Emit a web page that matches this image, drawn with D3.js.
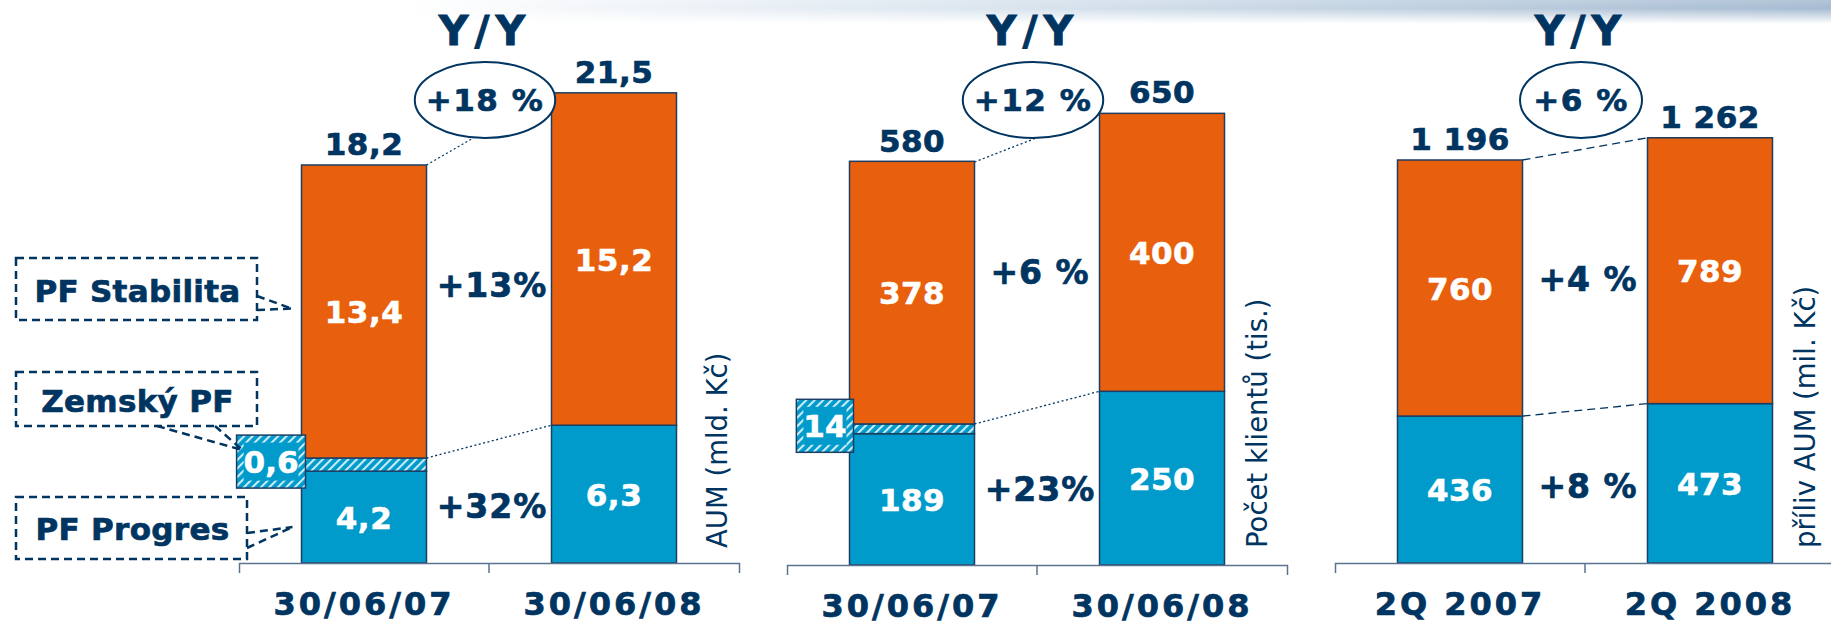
<!DOCTYPE html>
<html><head><meta charset="utf-8">
<script src="https://cdn.jsdelivr.net/npm/d3@7"></script>
<style>body{margin:0;background:#fff}svg{display:block}</style>
</head><body>
<svg id="c" width="1831" height="625"></svg>
<script>
// ---------- data ----------
const dateCategories = ["30/06/07", "30/06/08"];
const quarterCategories = ["2Q 2007", "2Q 2008"];
const seriesNames = ["PF Progres", "Zemský PF", "PF Stabilita"];

const aumProgres = [4.2, 6.3];
const aumZemsky = [0.6, 0];
const aumStabilita = [13.4, 15.2];
const aumTotals = [18.2, 21.5];
const aumGrowth = ["+18 %", "+13%", "+32%"];     // total, stabilita, progres

const clientsProgres = [189, 250];
const clientsZemsky = [14, 0];
const clientsStabilita = [378, 400];
const clientsTotals = [580, 650];
const clientsGrowth = ["+12 %", "+6 %", "+23%"];

const inflowProgres = [436, 473];
const inflowZemsky = [0, 0];
const inflowStabilita = [760, 789];
const inflowTotals = [1196, 1262];
const inflowGrowth = ["+6 %", "+4 %", "+8 %"];

const axisTitles = ["AUM (mld. Kč)", "Počet klientů (tis.)", "příliv AUM (mil. Kč)"];

// ---------- style ----------
const NAVY = "#003461", ORANGE = "#E8600E", BLUE = "#009BCB", FONT = "DejaVu Sans";
const cs = d3.formatLocale({decimal: ",", thousands: " ", grouping: [3], currency: ["", " Kč"]});

const svg = d3.select("#c");
const defs = svg.append("defs");

// top decorative band
const tg = defs.append("linearGradient").attr("id", "topH").attr("x1", 0).attr("x2", 1).attr("y1", 0).attr("y2", 0);
tg.append("stop").attr("offset", 0.22).attr("stop-color", "#ffffff");
tg.append("stop").attr("offset", 0.55).attr("stop-color", "#d9e4ee");
tg.append("stop").attr("offset", 1).attr("stop-color", "#a5bbd1");
const tv = defs.append("linearGradient").attr("id", "topV").attr("x1", 0).attr("x2", 0).attr("y1", 0).attr("y2", 1);
tv.append("stop").attr("offset", 0).attr("stop-color", "#fff").attr("stop-opacity", 0.85);
tv.append("stop").attr("offset", 0.35).attr("stop-color", "#fff").attr("stop-opacity", 1);
tv.append("stop").attr("offset", 1).attr("stop-color", "#fff").attr("stop-opacity", 0);
defs.append("mask").attr("id", "topMask").append("rect").attr("x", 0).attr("y", 0).attr("width", 1831).attr("height", 24).attr("fill", "url(#topV)");
svg.append("rect").attr("x", 0).attr("y", 0).attr("width", 1831).attr("height", 24).attr("fill", "url(#topH)").attr("mask", "url(#topMask)");

// hatch
const hp = defs.append("pattern").attr("id", "hatch").attr("width", 6).attr("height", 6)
  .attr("patternUnits", "userSpaceOnUse").attr("patternTransform", "rotate(45)");
hp.append("rect").attr("width", 6).attr("height", 6).attr("fill", BLUE);
hp.append("line").attr("x1", 1).attr("y1", 0).attr("x2", 1).attr("y2", 6).attr("stroke", "#c9ecf8").attr("stroke-width", 2.2);

const panels = [
  {cats: dateCategories, prog: aumProgres, zem: aumZemsky, stab: aumStabilita, totals: aumTotals, growth: aumGrowth,
   fmt: cs.format(".1f"), title: axisTitles[0], x0: 239, base: 563, topY: 165, titleDx: 50, dash: "2,2.5"},
  {cats: dateCategories, prog: clientsProgres, zem: clientsZemsky, stab: clientsStabilita, totals: clientsTotals, growth: clientsGrowth,
   fmt: cs.format("d"), title: axisTitles[1], x0: 787, base: 565, topY: 162, titleDx: 42, dash: "2,2.5"},
  {cats: quarterCategories, prog: inflowProgres, zem: inflowZemsky, stab: inflowStabilita, totals: inflowTotals, growth: inflowGrowth,
   fmt: cs.format(",d"), title: axisTitles[2], x0: 1335, base: 563, topY: 160, titleDx: 42, dash: "8,5"}
];

const keys = ["prog", "zem", "stab"];
const fills = {prog: BLUE, zem: "url(#hatch)", stab: ORANGE};

function txt(g, s, x, y, size, opts = {}) {
  const col = opts.fill || NAVY;
  return g.append("text").attr("x", x).attr("y", y).text(s)
    .attr("font-family", FONT).attr("font-size", size)
    .attr("font-weight", opts.weight || "bold")
    .attr("fill", col)
    .attr("stroke", col).attr("stroke-width", opts.sw === undefined ? 0.7 : opts.sw)
    .attr("text-anchor", opts.anchor || "middle")
    .attr("letter-spacing", opts.ls || 0);
}

let panel1 = null;

panels.forEach((p, pi) => {
  const g = svg.append("g");
  const x = d3.scaleBand().domain(p.cats).range([p.x0, p.x0 + 500]).paddingInner(0.5).paddingOuter(0.25);
  const y = d3.scaleLinear().domain([0, p.totals[0]]).range([p.base, p.topY]);
  const rows = p.cats.map((c, i) => ({cat: c, prog: p.prog[i], zem: p.zem[i], stab: p.stab[i]}));
  const stacked = d3.stack().keys(keys)(rows);
  const mid = p.x0 + 250; // category boundary (centre tick)

  // connector lines between bars (drawn first, behind ellipse)
  const topOf = i => y(p.totals[i]);
  const lowOf = i => y(rows[i].prog + rows[i].zem);
  [topOf, lowOf].forEach(f => {
    g.append("line")
      .attr("x1", x(p.cats[0]) + x.bandwidth()).attr("y1", f(0))
      .attr("x2", x(p.cats[1])).attr("y2", f(1))
      .attr("stroke", NAVY).attr("stroke-width", 1.3).attr("stroke-dasharray", p.dash);
  });

  // bars
  stacked.forEach(s => {
    g.selectAll(null).data(s.filter(d => d[1] - d[0] > 0)).join("rect")
      .attr("x", d => x(d.data.cat)).attr("width", x.bandwidth())
      .attr("y", d => y(d[1])).attr("height", d => y(d[0]) - y(d[1]))
      .attr("fill", fills[s.key]).attr("stroke", "#1d3d63").attr("stroke-width", 1.5);
  });

  // inner value labels
  stacked.filter(s => s.key !== "zem").forEach(s => {
    s.forEach(d => {
      const cy = (y(d[0]) + y(d[1])) / 2;
      txt(g, p.fmt(d[1] - d[0]), x(d.data.cat) + x.bandwidth() / 2, cy + 11.5, 31, {fill: "#fff", sw: 0.6, ls: 0.5});
    });
  });

  // totals above bars
  p.cats.forEach((c, i) => {
    txt(g, p.fmt(p.totals[i]), x(c) + x.bandwidth() / 2, topOf(i) - 10, 31, {ls: 0.5});
  });

  // growth labels between bars
  const segMid = (key, i) => { const s = stacked.find(t => t.key === key)[i]; return (y(s[0]) + y(s[1])) / 2; };
  const stabMid = (segMid("stab", 0) + segMid("stab", 1)) / 2;
  const progMid = (segMid("prog", 0) + segMid("prog", 1)) / 2;
  txt(g, p.growth[1], mid + 3, stabMid + 12, 33, {ls: 1});
  txt(g, p.growth[2], mid + 3, progMid + 12, 33, {ls: 1});

  // Y/Y + ellipse
  txt(g, "Y/Y", mid - 4, 45, 41, {ls: 6, sw: 0.9});
  const el = g.append("ellipse").attr("cx", mid - 4).attr("cy", 100).attr("ry", 38)
    .attr("fill", "#fff").attr("stroke", NAVY).attr("stroke-width", 2);
  const et = txt(g, p.growth[0], mid - 4, 111, 31, {ls: 1.5});
  const w = et.node().getComputedTextLength();
  el.attr("rx", Math.max(61, w / 2 + 11));

  // axis
  const ax = g.append("g").attr("transform", `translate(0,${p.base})`)
    .call(d3.axisBottom(x).tickSizeInner(0).tickSizeOuter(10));
  ax.select(".domain").attr("stroke", "#5b7391").attr("stroke-width", 1.5);
  ax.selectAll(".tick line").remove();
  ax.selectAll(".tick text").attr("dy", null).attr("y", 52)
    .attr("font-family", FONT).attr("font-size", 32).attr("font-weight", "bold")
    .attr("fill", NAVY).attr("stroke", NAVY).attr("stroke-width", 0.7).attr("letter-spacing", 3);
  g.append("line").attr("x1", mid).attr("x2", mid).attr("y1", p.base).attr("y2", p.base + 10)
    .attr("stroke", "#5b7391").attr("stroke-width", 1.5);

  // rotated axis title
  g.append("text").attr("transform", `translate(${x(p.cats[1]) + x.bandwidth() + p.titleDx},548) rotate(-90)`)
    .text(p.title).attr("font-family", FONT).attr("font-size", 27.5).attr("fill", NAVY).attr("text-anchor", "start");

  // hatched value box for Zemský PF
  if (p.zem[0] > 0) {
    const s = stacked.find(t => t.key === "zem")[0];
    const cy = (y(s[0]) + y(s[1])) / 2 - 3;
    const bx = g.append("g");
    const t = txt(bx, p.fmt(p.zem[0]), 0, cy + 11.5, 31, {fill: "#fff", sw: 0.6});
    const tw = t.node().getComputedTextLength();
    const right = x(p.cats[0]) + 4, left = right - tw - 14;
    t.attr("x", (left + right) / 2);
    bx.insert("rect", "text").attr("x", left).attr("y", cy - 26.5).attr("width", right - left).attr("height", 53)
      .attr("fill", "url(#hatch)").attr("stroke", "#1d3d63").attr("stroke-width", 1.5);
    bx.insert("rect", "text").attr("x", left + 7).attr("y", cy - 19).attr("width", right - left - 14).attr("height", 38)
      .attr("fill", BLUE);
    if (pi === 0) panel1 = {x, y, stacked, boxLeft: left, boxTop: cy - 26.5, segMid};
  }
});

// ---------- callout legend (panel 1) ----------
const lg = svg.append("g");
const dashStyle = sel => sel.attr("fill", "none").attr("stroke", NAVY).attr("stroke-width", 2.5).attr("stroke-dasharray", "8,5");
const barLeft = panel1.x(dateCategories[0]);
const callouts = [
  {name: seriesNames[2], box: [16, 258, 241, 62], ty: 302,
   from: [[257, 296], [257, 310]], tip: [barLeft - 10, panel1.segMid("stab", 0) - 3]},
  {name: seriesNames[1], box: [16, 372, 241, 54], ty: 412,
   from: [[157, 426], [215, 426]], tip: [panel1.boxLeft + 6, panel1.boxTop + 15]},
  {name: seriesNames[0], box: [16, 497, 231, 62], ty: 540,
   from: [[247, 533], [247, 548]], tip: [barLeft - 9, panel1.segMid("prog", 0) + 10]}
];
callouts.forEach(c => {
  lg.append("rect").attr("x", c.box[0]).attr("y", c.box[1]).attr("width", c.box[2]).attr("height", c.box[3]).call(dashStyle);
  c.from.forEach(f => lg.append("line").attr("x1", f[0]).attr("y1", f[1]).attr("x2", c.tip[0]).attr("y2", c.tip[1]).call(dashStyle));
  txt(lg, c.name, c.box[0] + c.box[2] / 2 + 1, c.ty, 31, {ls: 0.3});
});
</script>
</body></html>
